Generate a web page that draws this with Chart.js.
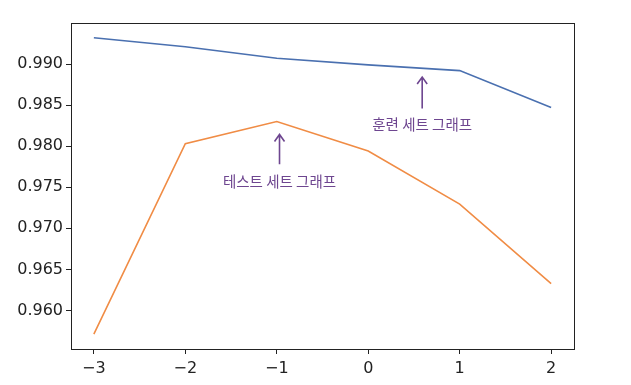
<!DOCTYPE html>
<html>
<head>
<meta charset="utf-8">
<script src="https://cdn.jsdelivr.net/npm/chart.js@4"></script>
<style>
  html, body { margin: 0; padding: 0; background: #fff; }
  #wrap { width: 631px; height: 385px; }
</style>
</head>
<body>
<div id="wrap"><canvas id="c" width="631" height="385"></canvas></div>
<script>
/* log10(C) vs accuracy, train and test curves */
var xValues = [-3, -2, -1, 0, 1, 2];
var trainScores = [0.9932, 0.9921, 0.9907, 0.9899, 0.9892, 0.9847];
var testScores = [0.9571, 0.9803, 0.9830, 0.9794, 0.97295, 0.96326];
var xTicks = [-3, -2, -1, 0, 1, 2];
var yTicks = [0.960, 0.965, 0.970, 0.975, 0.980, 0.985, 0.990];

/* annotations: label, text position, arrow tail and tip (data units) */
var notes = [
  { text: '테스트 세트 그래프', x: -0.97, y: 0.97573, tail: 0.97779, tip: 0.98143 },
  { text: '훈련 세트 그래프', x: 0.59, y: 0.98261, tail: 0.98460, tip: 0.98842 }
];

var NOTE_COLOR = '#6e4690';
var TICK_COLOR = '#222';

function toPoints(ys) {
  return xValues.map(function(x, i) { return { x: x, y: ys[i] }; });
}

var frameAndNotes = {
  id: 'frameAndNotes',
  afterDraw: function(chart) {
    var ctx = chart.ctx;
    var a = chart.chartArea;
    var sx = chart.scales.x, sy = chart.scales.y;
    ctx.save();
    ctx.strokeStyle = '#222';
    ctx.lineWidth = 1;
    ctx.strokeRect(Math.round(a.left) + 0.5, Math.round(a.top) + 0.5,
      Math.round(a.right - a.left), Math.round(a.bottom - a.top));

    ctx.fillStyle = NOTE_COLOR;
    ctx.strokeStyle = NOTE_COLOR;
    ctx.lineWidth = 1.6;
    ctx.font = '14.5px "Noto Sans CJK KR"';
    ctx.textAlign = 'center';
    ctx.textBaseline = 'middle';
    notes.forEach(function(n) {
      var px = sx.getPixelForValue(n.x);
      ctx.fillText(n.text, px, sy.getPixelForValue(n.y));
      var yTail = sy.getPixelForValue(n.tail);
      var yTip = sy.getPixelForValue(n.tip);
      ctx.beginPath();
      ctx.moveTo(px, yTail);
      ctx.lineTo(px, yTip);
      ctx.moveTo(px - 5, yTip + 7);
      ctx.lineTo(px, yTip);
      ctx.lineTo(px + 5, yTip + 7);
      ctx.stroke();
    });
    ctx.restore();
  }
};

new Chart(document.getElementById('c').getContext('2d'), {
  type: 'line',
  data: {
    datasets: [
      {
        label: 'train',
        data: toPoints(trainScores),
        borderColor: '#4a70b0',
        borderWidth: 1.6,
        pointRadius: 0,
        tension: 0
      },
      {
        label: 'test',
        data: toPoints(testScores),
        borderColor: '#f08c45',
        borderWidth: 1.6,
        pointRadius: 0,
        tension: 0
      }
    ]
  },
  options: {
    responsive: false,
    animation: false,
    layout: { padding: { left: 0, top: 23, right: 57, bottom: 0 } },
    plugins: { legend: { display: false }, tooltip: { enabled: false } },
    scales: {
      x: {
        type: 'linear',
        min: -3.25,
        max: 2.25,
        afterBuildTicks: function(s) {
          s.ticks = xTicks.map(function(v) { return { value: v }; });
        },
        afterFit: function(s) { s.height = 36; },
        grid: { drawOnChartArea: false, drawTicks: true, tickLength: 5, color: TICK_COLOR },
        border: { display: true, color: TICK_COLOR },
        ticks: {
          color: TICK_COLOR,
          padding: 5,
          maxRotation: 0,
          font: { family: 'DejaVu Sans', size: 16 },
          callback: function(v) { return v < 0 ? '\u2212' + Math.abs(v) : String(v); }
        }
      },
      y: {
        min: 0.9553,
        max: 0.9950,
        afterBuildTicks: function(s) {
          s.ticks = yTicks.map(function(v) { return { value: v }; });
        },
        afterFit: function(s) { s.width = 71; },
        grid: { drawOnChartArea: false, drawTicks: true, tickLength: 5, color: TICK_COLOR },
        border: { display: true, color: TICK_COLOR },
        ticks: {
          color: TICK_COLOR,
          padding: 3,
          font: { family: 'DejaVu Sans', size: 16 },
          callback: function(v) { return v.toFixed(3); }
        }
      }
    }
  },
  plugins: [frameAndNotes]
});
</script>
</body>
</html>
